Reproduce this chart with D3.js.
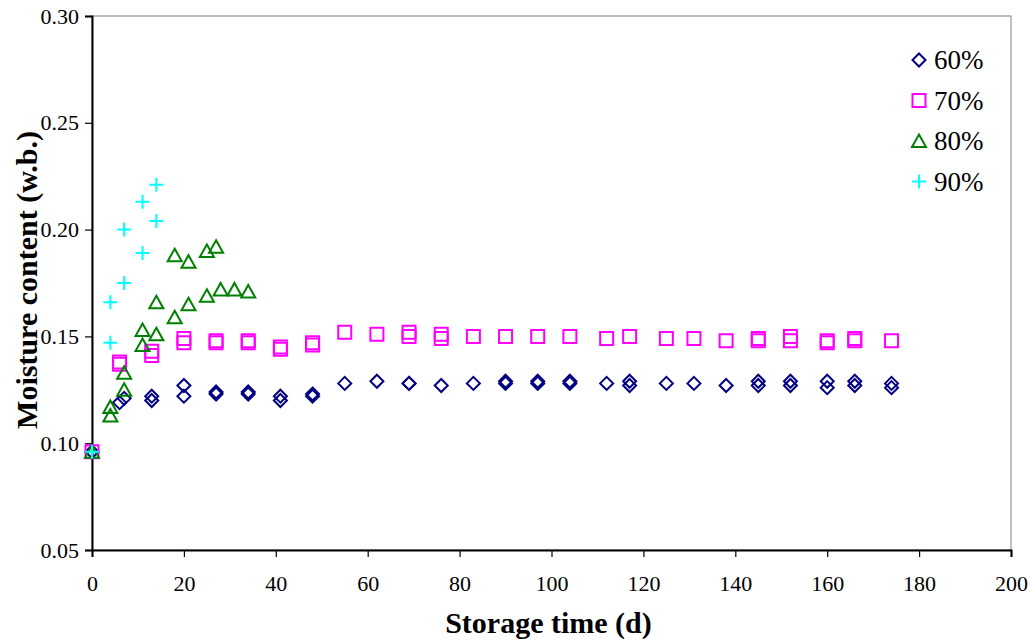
<!DOCTYPE html>
<html><head><meta charset="utf-8">
<script src="https://cdn.jsdelivr.net/npm/d3@7"></script>
<style>body{margin:0;background:#fff;} svg text{font-family:"Liberation Serif","Times New Roman",serif !important;}</style>
</head><body><svg id="c" width="1032" height="643"></svg>
<script>
const xTicks = [0,20,40,60,80,100,120,140,160,180,200];
const yTicks = [0.05,0.10,0.15,0.20,0.25,0.30];
const seriesNames = ["60%","70%","80%","90%"];
// [day, moisture content]
const rh60 = [[0,0.096],[6,0.119],[7,0.121],[13,0.122],[13,0.120],[20,0.127],[20,0.122],[27,0.124],[27,0.123],[34,0.124],[34,0.123],
  [41,0.122],[41,0.120],[48,0.123],[48,0.122],[55,0.128],[62,0.129],[69,0.128],[69,0.128],[76,0.127],[83,0.128],[90,0.129],[90,0.128],
  [97,0.129],[97,0.128],[104,0.129],[104,0.128],[112,0.128],[117,0.129],[117,0.127],[125,0.128],[131,0.128],[138,0.127],[145,0.129],[145,0.127],
  [152,0.129],[152,0.127],[160,0.129],[160,0.126],[166,0.129],[166,0.127],[174,0.128],[174,0.126]];
const rh70 = [[0,0.096],[6,0.138],[6,0.137],[13,0.143],[13,0.141],[20,0.149],[20,0.147],[27,0.148],[27,0.147],[34,0.148],[34,0.147],
  [41,0.145],[41,0.144],[48,0.147],[48,0.146],[55,0.152],[62,0.151],[69,0.152],[69,0.150],[76,0.151],[76,0.149],[83,0.150],[90,0.150],
  [97,0.150],[104,0.150],[112,0.149],[117,0.150],[125,0.149],[131,0.149],[138,0.148],[145,0.149],[145,0.148],[152,0.150],[152,0.148],
  [160,0.148],[160,0.147],[166,0.149],[166,0.148],[174,0.148]];
const rh80 = [[0,0.096],[4,0.117],[4,0.113],[7,0.133],[7,0.125],[11,0.153],[11,0.146],[14,0.166],[14,0.151],[18,0.188],[18,0.159],
  [21,0.185],[21,0.165],[25,0.190],[25,0.169],[27,0.192],[28,0.172],[31,0.172],[34,0.171]];
const rh90 = [[0,0.096],[4,0.166],[4,0.147],[7,0.200],[7,0.175],[11,0.213],[11,0.189],[14,0.221],[14,0.204]];

const FONT = "'Liberation Serif','Times New Roman',serif";
const svg = d3.select("#c");
const L=92, R=1011, T=16, B=550;
const x = d3.scaleLinear().domain([0,200]).range([L,R]);
const y = d3.scaleLinear().domain([0.05,0.30]).range([B,T]);

// frame
svg.append("rect").attr("x",L).attr("y",T).attr("width",R-L).attr("height",B-T)
  .attr("fill","none").attr("stroke","#808080").attr("stroke-width",1);

const xAxis = svg.append("g").attr("transform",`translate(0,${B})`)
  .call(d3.axisBottom(x).tickValues(xTicks).tickSize(7).tickPadding(18).tickFormat(d3.format("d")));
const yAxis = svg.append("g").attr("transform",`translate(${L},0)`)
  .call(d3.axisLeft(y).tickValues(yTicks).tickSize(7).tickPadding(6).tickFormat(d3.format(".2f")));
[xAxis,yAxis].forEach(g=>{
  g.attr("font-family",FONT).attr("font-size",22);
  g.select(".domain").attr("stroke","#000").attr("stroke-width",2);
  g.selectAll(".tick line").attr("stroke","#000").attr("stroke-width",1.2);
  g.selectAll("text").style("font-family",FONT).style("font-size","22px").attr("fill","#000");
});

svg.append("text").attr("x",(L+R)/2 - 3).attr("y",633).attr("text-anchor","middle")
  .style("font-family",FONT).style("font-size","30px").attr("font-weight","bold").text("Storage time (d)");
svg.append("text").attr("transform",`translate(37,${(T+B)/2 - 3}) rotate(-90)`).attr("text-anchor","middle")
  .style("font-family",FONT).style("font-size","30px").attr("font-weight","bold").text("Moisture content (w.b.)");

const shapes = {
  diamond: "M0,-6.5L6.5,0L0,6.5L-6.5,0Z",
  square: "M-6.5,-6.5H6.5V6.5H-6.5Z",
  triangle: "M0,-6.5L7,6L-7,6Z",
  plus: "M-7,0H7M0,-7V7"
};
const styles = [
  {data:rh60, shape:"diamond", color:"#000080"},
  {data:rh70, shape:"square", color:"#FF00FF"},
  {data:rh80, shape:"triangle", color:"#008000"},
  {data:rh90, shape:"plus", color:"#00FFFF"}
];
styles.forEach(s=>{
  svg.append("g").selectAll("path").data(s.data).join("path")
    .attr("transform",d=>`translate(${x(d[0])},${y(d[1])})`)
    .attr("d",shapes[s.shape]).attr("fill","none").attr("stroke",s.color).attr("stroke-width",2);
});

// legend
const lg = svg.append("g");
styles.forEach((s,i)=>{
  const yy = 60 + i*40.5;
  lg.append("path").attr("transform",`translate(919,${yy})`).attr("d",shapes[s.shape])
    .attr("fill","none").attr("stroke",s.color).attr("stroke-width",2);
  lg.append("text").attr("x",934).attr("y",yy+9).style("font-family",FONT).style("font-size","27px").text(seriesNames[i]);
});
</script></body></html>
